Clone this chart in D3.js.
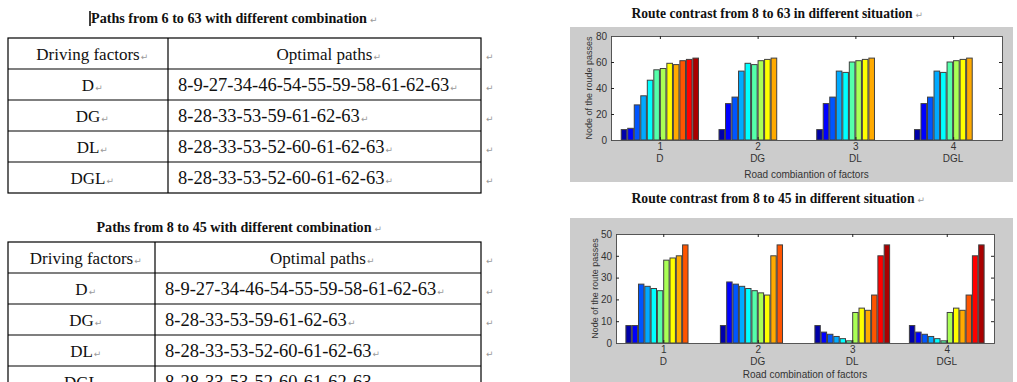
<!DOCTYPE html>
<html>
<head>
<meta charset="utf-8">
<script src="https://cdn.jsdelivr.net/npm/d3@7"></script>
<style>
  body { margin: 0; background: #ffffff; }
  svg { display: block; }
</style>
</head>
<body>
<div id="page"></div>
<script>
// ---- data ----
var factors = ["D", "DG", "DL", "DGL"];
var paths63 = [
  "8-9-27-34-46-54-55-59-58-61-62-63",
  "8-28-33-53-59-61-62-63",
  "8-28-33-53-52-60-61-62-63",
  "8-28-33-53-52-60-61-62-63"
];
var paths45 = [
  "8-9-27-34-46-54-55-59-58-61-62-63",
  "8-28-33-53-59-61-62-63",
  "8-28-33-53-52-60-61-62-63",
  "8-28-33-53-52-60-61-62-63"
];
// node passed at each step, per combination (0 = no step)
var route63 = [
  [8, 9, 27, 34, 46, 54, 55, 59, 58, 61, 62, 63],
  [8, 28, 33, 53, 59, 58, 61, 62, 63, 0, 0, 0],
  [8, 28, 33, 53, 52, 60, 61, 62, 63, 0, 0, 0],
  [8, 28, 33, 53, 52, 60, 61, 62, 63, 0, 0, 0]
];
var route45 = [
  [8, 8, 27, 26, 25, 24, 38, 39, 40, 45, 0, 0],
  [8, 28, 27, 26, 25, 24, 23, 22, 40, 45, 0, 0],
  [8, 5, 4, 3, 2, 1, 14, 16, 15, 22, 40, 45],
  [8, 5, 4, 3, 2, 1, 14, 16, 15, 22, 40, 45]
];
var groupTicks = ["1", "2", "3", "4"];
// matlab jet(12)
var jet12 = ["#0000aa", "#0000ff", "#0055ff", "#00aaff", "#00ffff", "#55ffaa",
             "#aaff55", "#ffff00", "#ffaa00", "#ff5500", "#ff0000", "#aa0000"];

var svg = d3.select("#page").append("svg")
  .attr("width", 1017).attr("height", 382);

var serif = "'Liberation Serif', 'Times New Roman', serif";
var sans = "'Liberation Sans', Arial, sans-serif";

function paraMark(x, y) {
  svg.append("text")
    .attr("x", x).attr("y", y)
    .style("font-family", "'DejaVu Sans', sans-serif")
    .style("font-size", "9px")
    .style("fill", "#9a9a9a")
    .text("\u21b5");
}

function heading(txt, cx, y, w, size) {
  svg.append("text")
    .attr("x", cx - w / 2).attr("y", y)
    .attr("textLength", w).attr("lengthAdjust", "spacingAndGlyphs")
    .style("font-family", serif)
    .style("font-weight", "bold")
    .style("font-size", size + "px")
    .style("fill", "#111")
    .text(txt);
  paraMark(cx + w / 2 + 3, y);
}

// ---- tables ----
function drawTable(top, left, divider, right, rowH, rows, paths) {
  var g = svg.append("g");
  var nRows = rows.length + 1;
  var bottom = top + rowH * nRows;
  g.append("rect")
    .attr("x", left).attr("y", top)
    .attr("width", right - left).attr("height", bottom - top)
    .attr("fill", "none").attr("stroke", "#000").attr("stroke-width", 1.2);
  g.append("line")
    .attr("x1", divider).attr("x2", divider)
    .attr("y1", top).attr("y2", bottom)
    .attr("stroke", "#000").attr("stroke-width", 1.2);
  for (var i = 1; i < nRows; i++) {
    g.append("line")
      .attr("x1", left).attr("x2", right)
      .attr("y1", top + i * rowH).attr("y2", top + i * rowH)
      .attr("stroke", "#000").attr("stroke-width", 1.2);
  }
  var c1 = (left + divider) / 2;
  var c2 = (divider + right) / 2;
  var labels = [["Driving factors", "Optimal paths"]];
  rows.forEach(function(r, i) { labels.push([r, paths[i]]); });
  labels.forEach(function(row, i) {
    var y = top + i * rowH + rowH / 2 + 6;
    var t1 = g.append("text")
      .attr("x", c1).attr("y", y).attr("text-anchor", "middle")
      .style("font-family", serif).style("font-size", "17px").style("fill", "#111")
      .text(row[0]);
    var w1 = t1.node().getComputedTextLength();
    paraMark(c1 + w1 / 2 + 1, y);
    var t2 = g.append("text")
      .attr("y", y)
      .style("font-family", serif).style("fill", "#111")
      .text(row[1]);
    var w2;
    if (i === 0) {
      t2.attr("x", c2).attr("text-anchor", "middle").style("font-size", "17px");
      w2 = t2.node().getComputedTextLength();
      paraMark(c2 + w2 / 2 + 1, y);
    } else {
      t2.attr("x", divider + 10).style("font-size", "18.5px");
      w2 = t2.node().getComputedTextLength();
      paraMark(divider + 10 + w2 + 1, y);
    }
    paraMark(right + 5, y);
  });
}

heading("Paths from 6 to 63 with different combination", 229, 23, 276, 14);
svg.append("line").attr("x1", 90).attr("x2", 90).attr("y1", 11).attr("y2", 26)
  .attr("stroke", "#000").attr("stroke-width", 1.5);
drawTable(38, 8, 168, 481, 31, factors, paths63);

heading("Paths from 8 to 45 with different combination", 234, 232, 275, 14);
drawTable(242, 8, 155, 481, 31, factors, paths45);

// ---- matlab style bar charts ----
function barChart(opt) {
  svg.append("rect")
    .attr("x", opt.panel[0]).attr("y", opt.panel[1])
    .attr("width", opt.panel[2]).attr("height", opt.panel[3])
    .attr("fill", "#cccccc");

  var x = d3.scaleLinear().domain([0.5, 4.5]).range([opt.left, opt.right]);
  var y = d3.scaleLinear().domain([0, opt.ymax]).range([opt.bottom, opt.top]);

  var g = svg.append("g");
  g.append("rect")
    .attr("x", opt.left).attr("y", opt.top)
    .attr("width", opt.right - opt.left).attr("height", opt.bottom - opt.top)
    .attr("fill", "#ffffff");

  var nSeries = opt.data[0].length;
  var slot = 0.8 / nSeries;
  var bars = [];
  opt.data.forEach(function(vals, gi) {
    vals.forEach(function(v, si) {
      if (v > 0) bars.push({ g: gi + 1, s: si, v: v });
    });
  });
  var bw = x(slot * 0.86) - x(0);
  g.selectAll("rect.bar").data(bars).enter().append("rect")
    .attr("class", "bar")
    .attr("x", function(d) { return x(d.g - 0.4 + (d.s + 0.5) * slot) - bw / 2; })
    .attr("y", function(d) { return y(d.v); })
    .attr("width", bw)
    .attr("height", function(d) { return y(0) - y(d.v); })
    .attr("fill", function(d) { return jet12[d.s]; })
    .attr("stroke", "#404040")
    .attr("stroke-width", 1);

  var tl = 3;
  var yAxis = d3.axisLeft(y).ticks(opt.ymax / opt.ystep).tickSize(-tl).tickPadding(4);
  g.append("g").attr("transform", "translate(" + opt.left + ",0)").call(yAxis);
  g.append("g").attr("transform", "translate(" + opt.right + ",0)")
    .call(d3.axisRight(y).ticks(opt.ymax / opt.ystep).tickSize(-tl).tickFormat(""));
  var xAxis = d3.axisBottom(x).tickValues([1, 2, 3, 4])
    .tickFormat(function(d) { return groupTicks[d - 1]; }).tickSize(-tl).tickPadding(3);
  g.append("g").attr("transform", "translate(0," + opt.bottom + ")").call(xAxis);
  g.append("g").attr("transform", "translate(0," + opt.top + ")")
    .call(d3.axisTop(x).tickValues([1, 2, 3, 4]).tickSize(-tl).tickFormat(""));

  g.selectAll(".domain").attr("stroke", "#555").attr("stroke-width", 1);
  g.selectAll(".tick line").attr("stroke", "#222");
  g.selectAll(".tick text")
    .style("font-family", sans).style("font-size", "10px").style("fill", "#333");

  // factor names under the numbers
  g.selectAll("text.fac").data(factors).enter().append("text")
    .attr("class", "fac")
    .attr("x", function(d, i) { return x(i + 1); })
    .attr("y", opt.facY)
    .attr("text-anchor", "middle")
    .style("font-family", sans).style("font-size", "10px").style("fill", "#333")
    .text(function(d) { return d; });

  g.append("text")
    .attr("x", (opt.left + opt.right) / 2).attr("y", opt.xlabY)
    .attr("text-anchor", "middle")
    .style("font-family", sans).style("font-size", "10px").style("fill", "#333")
    .text(opt.xlabel);

  g.append("text")
    .attr("transform", "translate(" + opt.ylabX + "," + ((opt.top + opt.bottom) / 2) + ") rotate(-90)")
    .attr("text-anchor", "middle")
    .style("font-family", sans).style("font-size", "9px").style("fill", "#333")
    .text(opt.ylabel);
}

heading("Route contrast from 8 to 63 in different situation", 772, 18, 281, 15);
barChart({
  panel: [570, 27, 443, 155],
  left: 611, right: 1002, top: 36, bottom: 140,
  ymax: 80, ystep: 20,
  data: route63,
  facY: 162, xlabY: 178, ylabX: 592,
  xlabel: "Road combiantion of factors",
  ylabel: "Node of the roude passes"
});

heading("Route contrast from 8 to 45 in different situation", 773, 203, 283, 15);
barChart({
  panel: [570, 218, 443, 170],
  left: 616, right: 994, top: 234, bottom: 343,
  ymax: 50, ystep: 10,
  data: route45,
  facY: 365, xlabY: 378, ylabX: 598,
  xlabel: "Road combination of factors",
  ylabel: "Node of the route passes"
});
</script>
</body>
</html>
